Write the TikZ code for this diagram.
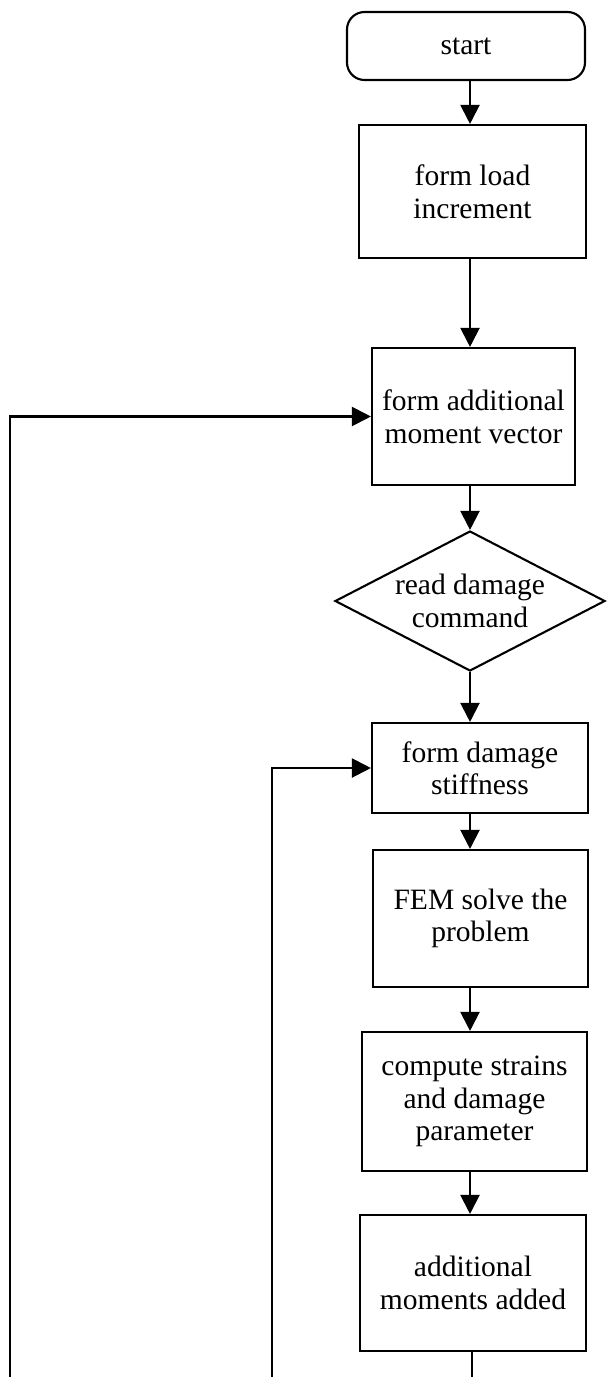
\documentclass[tikz,border=0pt]{standalone}
\usepackage{fontspec}
\setmainfont{Liberation Serif}
\usetikzlibrary{shapes.geometric,arrows.meta}
\tikzset{
    box/.style={draw, line width=1.2pt, align=center, inner sep=0pt},
    flow/.style={line width=1.2pt, -{Triangle[length=3.8mm,width=3.8mm]}},
    link/.style={line width=1.2pt}
}
\begin{document}
\begin{tikzpicture}[x=0.2mm, y=-0.2mm, font=\fontsize{16.8}{18.5}\selectfont]
        \useasboundingbox (0,0) rectangle (607,1377);
        \coordinate (axis) at (470,0);
        \coordinate (outer) at (10,1377);
        \coordinate (inner) at (272,1377);
        \coordinate (tail) at (472,1377);
        \node [box, rounded corners=3.5mm, minimum width=47.6mm, minimum height=13.6mm] (start) at (466,46) {start};
        \node [box, minimum width=45.4mm, minimum height=26.6mm] (load) at (472.5,191.5) {form load\\increment};
        \node [box, minimum width=40.6mm, minimum height=27.4mm] (moment) at (473.5,416.5) {form additional\\moment vector};
        \node [box, diamond, shape aspect=1.93, minimum width=54mm, minimum height=28mm] (command) at (470,601) {read damage\\command};
        \node [box, minimum width=43.2mm, minimum height=18mm] (stiff) at (480,768) {form damage\\stiffness};
        \node [box, minimum width=43mm, minimum height=27.4mm] (solve) at (480.5,918.5) {FEM solve the\\problem};
        \node [box, minimum width=45mm, minimum height=27.8mm] (strain) at (474.5,1101.5) {compute strains\\and damage\\parameter};
        \node [box, minimum width=45.2mm, minimum height=27.2mm] (added) at (473,1283) {additional\\moments added};
        \draw [flow] (start.south -| axis) -- (load.north -| axis);
        \draw [flow] (load.south -| axis) -- (moment.north -| axis);
        \draw [flow] (moment.south -| axis) -- (command.north);
        \draw [flow] (command.south) -- (stiff.north -| axis);
        \draw [flow] (stiff.south -| axis) -- (solve.north -| axis);
        \draw [flow] (solve.south -| axis) -- (strain.north -| axis);
        \draw [flow] (strain.south -| axis) -- (added.north -| axis);
        \draw [link] (added.south -| tail) -- (tail);
        \draw [flow] (outer) |- (moment.west);
        \draw [flow] (inner) |- (stiff.west);
    \end{tikzpicture}
\end{document}
